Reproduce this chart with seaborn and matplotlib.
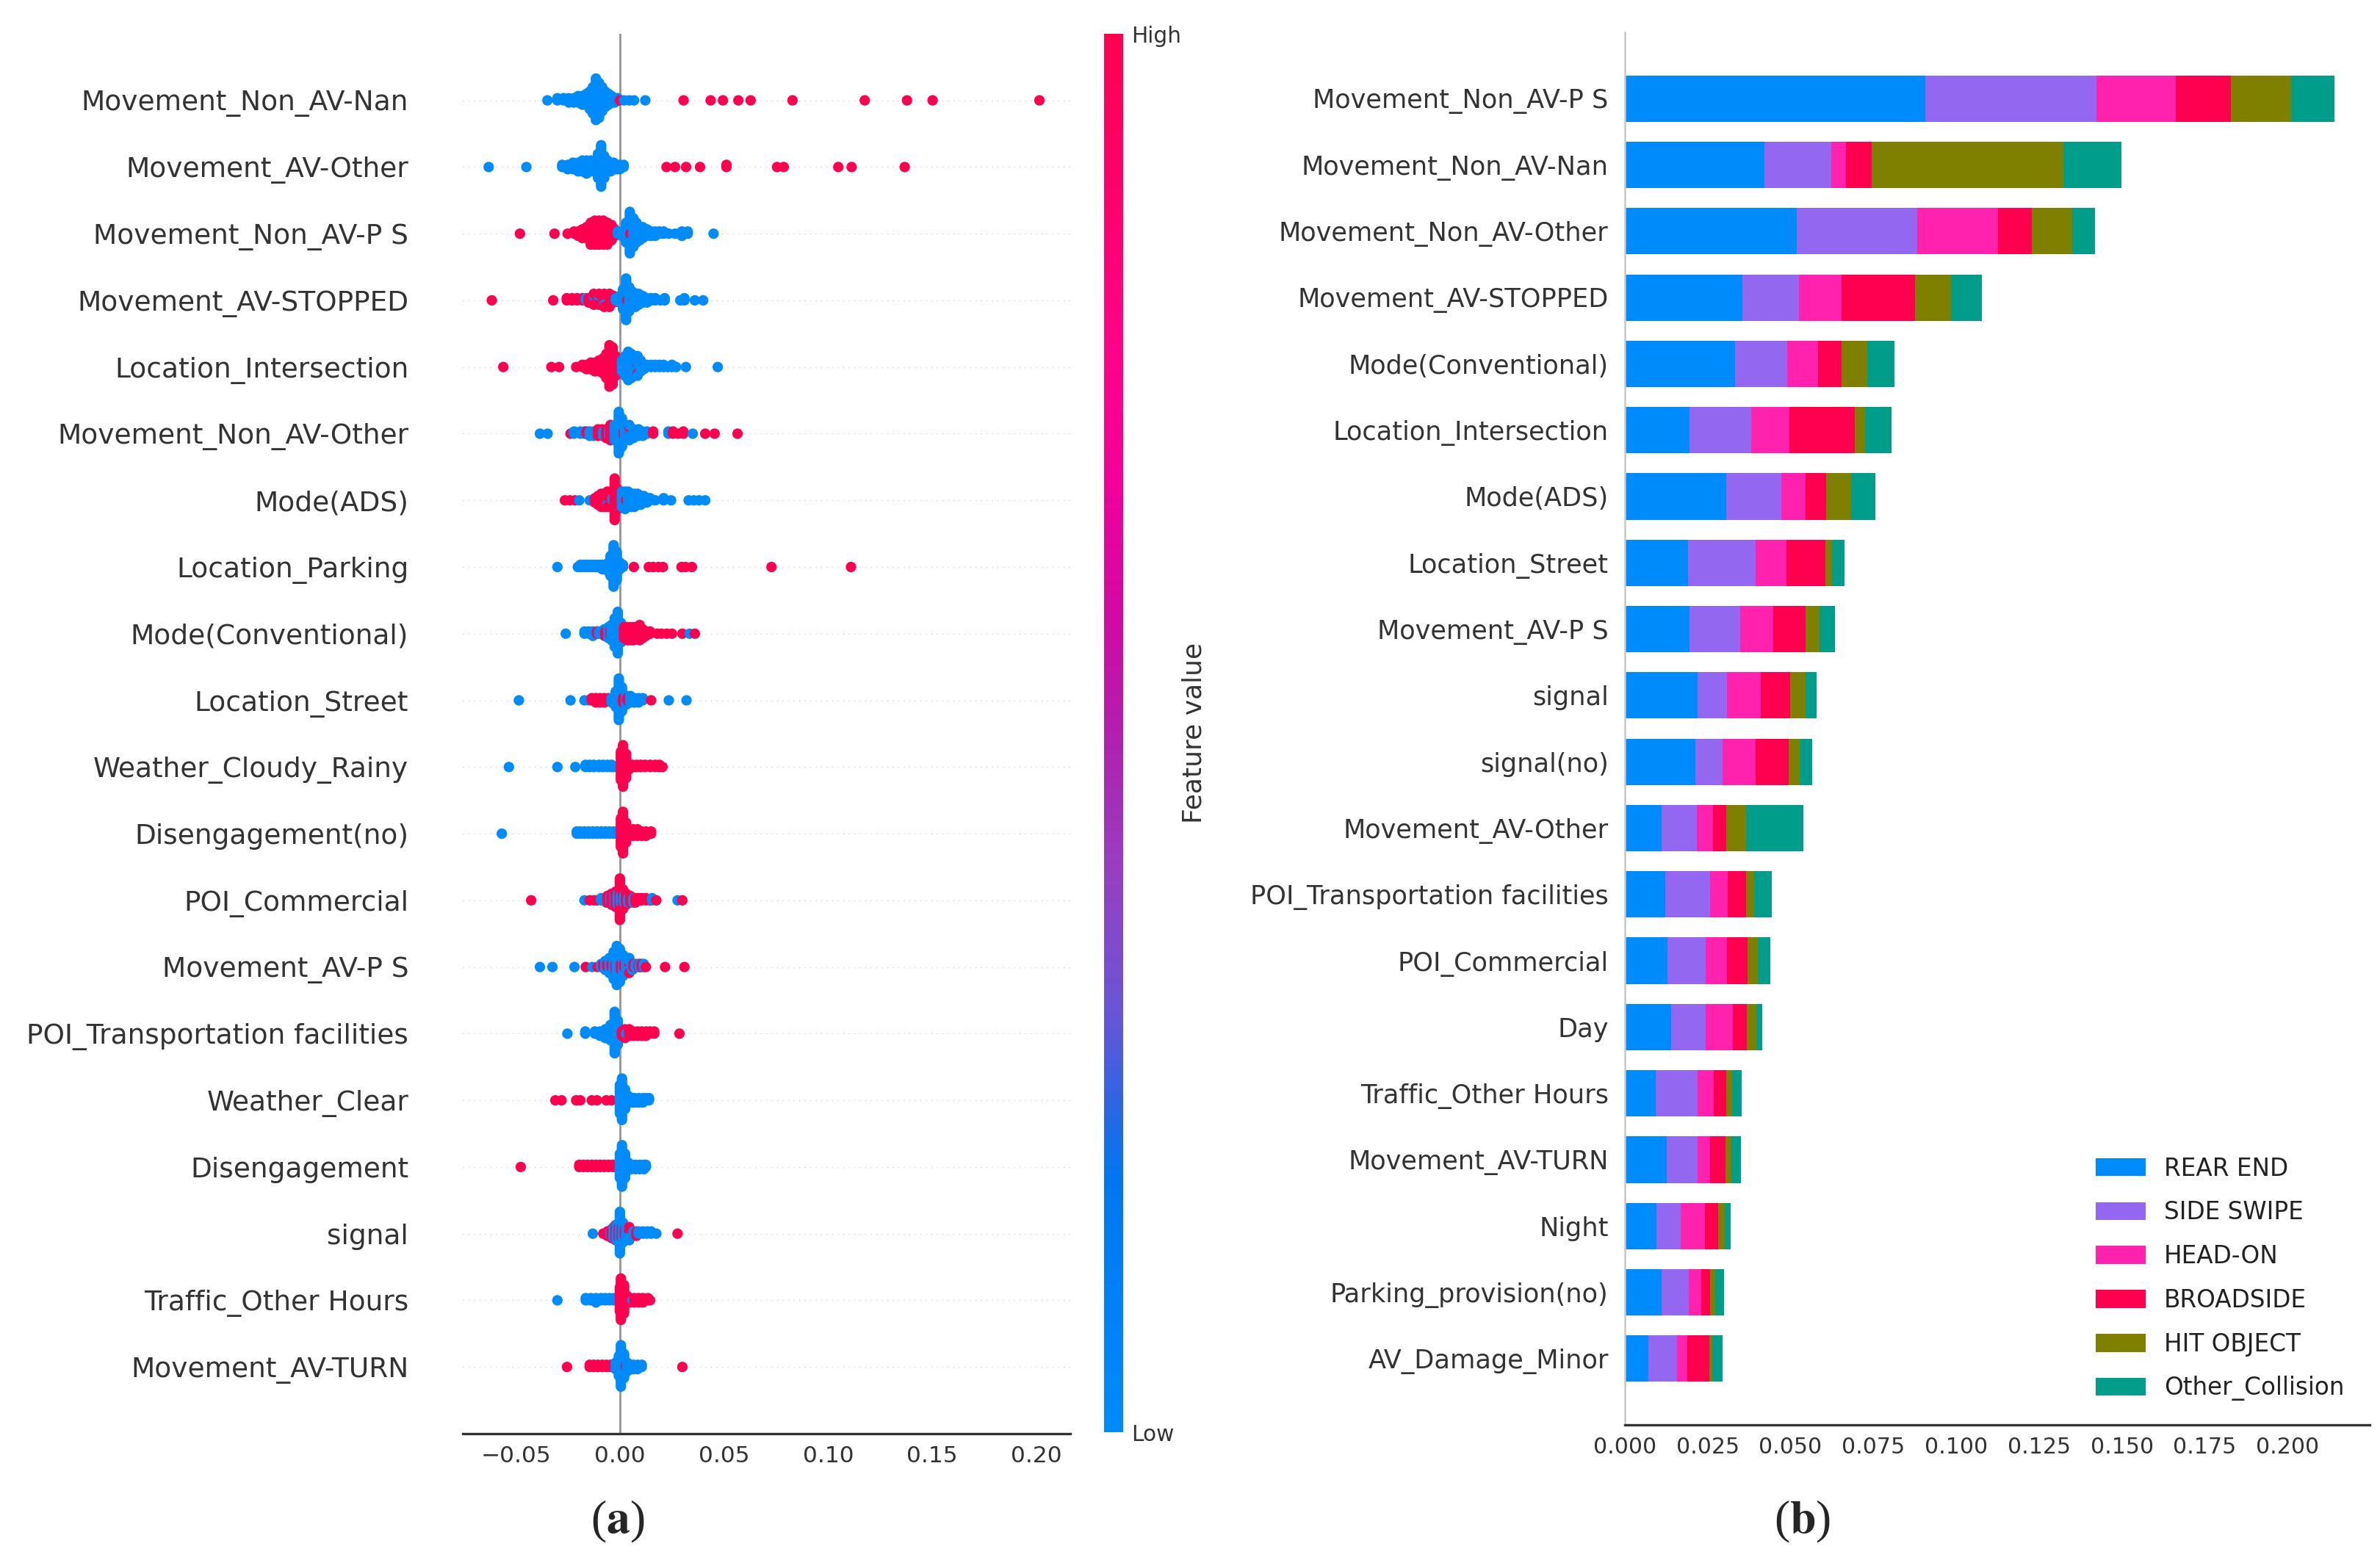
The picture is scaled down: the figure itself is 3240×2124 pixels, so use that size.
import numpy as np
import pandas as pd
import matplotlib
matplotlib.use("Agg")
import matplotlib.pyplot as plt
import seaborn as sns
from matplotlib.colors import LinearSegmentedColormap
from matplotlib.cm import ScalarMappable

# ---------------- panel (a): SHAP beeswarm, (shap value, number of dots)
features_a = ["Movement_Non_AV-Nan", "Movement_AV-Other", "Movement_Non_AV-P S", "Movement_AV-STOPPED",
              "Location_Intersection", "Movement_Non_AV-Other", "Mode(ADS)", "Location_Parking",
              "Mode(Conventional)", "Location_Street", "Weather_Cloudy_Rainy", "Disengagement(no)",
              "POI_Commercial", "Movement_AV-P S", "POI_Transportation facilities", "Weather_Clear",
              "Disengagement", "signal", "Traffic_Other Hours", "Movement_AV-TURN"]

# Movement_Non_AV-Nan
lo01 = [(-0.0348, 1), (-0.030, 2), (-0.027, 2), (-0.0245, 3), (-0.022, 3), (-0.020, 4), (-0.018, 5),
        (-0.016, 6), (-0.0145, 9), (-0.013, 13), (-0.0115, 20), (-0.010, 17), (-0.0085, 12), (-0.007, 8),
        (-0.0055, 6), (-0.004, 4), (-0.0025, 3), (-0.001, 2), (0.002, 1), (0.0045, 1), (0.0068, 1), (0.0122, 1)]
hi01 = [(0.000, 1), (0.0306, 1), (0.0436, 1), (0.0495, 1), (0.0569, 1), (0.0628, 1), (0.0829, 1),
        (0.1176, 1), (0.1379, 1), (0.1502, 1), (0.2015, 1)]
# Movement_AV-Other
lo02 = [(-0.063, 1), (-0.0449, 1), (-0.0277, 2), (-0.025, 3), (-0.0225, 4), (-0.020, 5), (-0.018, 6),
        (-0.016, 7), (-0.014, 6), (-0.012, 6), (-0.0105, 12), (-0.009, 20), (-0.0075, 11), (-0.006, 6),
        (-0.0045, 5), (-0.003, 4), (-0.0015, 3), (0.000, 3), (0.0018, 2)]
hi02 = [(0.0224, 1), (0.0265, 1), (0.0318, 1), (0.0385, 1), (0.0512, 2), (0.0755, 1), (0.0787, 1),
        (0.1049, 1), (0.1113, 1), (0.1368, 1)]
# Movement_Non_AV-P S
lo03 = [(-0.001, 2), (0.001, 3), (0.003, 10), (0.0048, 20), (0.0065, 14), (0.008, 10), (0.0095, 7),
        (0.011, 6), (0.013, 4), (0.015, 3), (0.017, 3), (0.019, 2), (0.021, 2), (0.0235, 1), (0.0265, 1),
        (0.0298, 3), (0.0326, 2), (0.045, 1)]
hi03 = [(-0.048, 1), (-0.0314, 1), (-0.0251, 1), (-0.022, 2), (-0.020, 3), (-0.018, 5), (-0.016, 6),
        (-0.014, 11), (-0.012, 12), (-0.010, 12), (-0.008, 12), (-0.006, 11), (-0.004, 8), (-0.0025, 4),
        (0.005, 1)]
# Movement_AV-STOPPED
lo04 = [(-0.0163, 2), (-0.0125, 2), (-0.010, 2), (-0.0075, 2), (-0.005, 1), (-0.002, 2), (0.000, 4),
        (0.0015, 10), (0.003, 20), (0.0045, 12), (0.006, 8), (0.0075, 7), (0.009, 6), (0.011, 4),
        (0.013, 3), (0.015, 2), (0.017, 2), (0.0195, 1), (0.0215, 2), (0.029, 1), (0.031, 2),
        (0.036, 1), (0.040, 1)]
hi04 = [(-0.0615, 1), (-0.032, 1), (-0.0255, 2), (-0.023, 2), (-0.0205, 2), (-0.018, 2), (-0.015, 3),
        (-0.0125, 4), (-0.010, 4), (-0.0075, 5), (-0.005, 6), (-0.003, 4), (0.0035, 1)]
# Location_Intersection
lo05 = [(0.001, 6), (0.0025, 10), (0.004, 14), (0.0055, 12), (0.007, 10), (0.0085, 8), (0.010, 6),
        (0.0115, 3), (0.013, 2), (0.015, 2), (0.017, 2), (0.019, 2), (0.021, 2), (0.023, 1), (0.025, 2),
        (0.027, 1), (0.0317, 1), (0.047, 1)]
hi05 = [(-0.056, 1), (-0.0329, 1), (-0.0292, 1), (-0.021, 1), (-0.018, 2), (-0.016, 3), (-0.014, 4),
        (-0.012, 5), (-0.010, 6), (-0.008, 8), (-0.0065, 12), (-0.005, 20), (-0.0035, 18), (-0.002, 10),
        (-0.0005, 5), (0.0085, 2)]
# Movement_Non_AV-Other
lo06 = [(-0.0384, 1), (-0.0347, 1), (-0.022, 2), (-0.019, 2), (-0.017, 2), (-0.0145, 3), (-0.0126, 3),
        (-0.008, 3), (-0.005, 4), (-0.0025, 8), (-0.0005, 20), (0.001, 14), (0.0025, 8), (0.0045, 6),
        (0.0065, 5), (0.009, 4), (0.011, 3), (0.013, 2), (0.0233, 2), (0.035, 1)]
hi06 = [(-0.0237, 1), (-0.016, 2), (-0.0105, 4), (-0.0085, 4), (-0.0065, 5), (-0.0045, 8), (-0.003, 4),
        (0.002, 3), (0.0045, 2), (0.016, 2), (0.0255, 2), (0.028, 1), (0.0305, 2), (0.041, 1),
        (0.0455, 1), (0.0565, 1)]
# Mode(ADS)
lo07 = [(-0.0195, 1), (-0.0145, 1), (-0.006, 2), (-0.0035, 2), (0.001, 8), (0.0025, 9), (0.004, 8),
        (0.0055, 7), (0.007, 7), (0.0085, 6), (0.010, 5), (0.0115, 4), (0.013, 3), (0.0145, 2),
        (0.017, 1), (0.021, 2), (0.0246, 1), (0.033, 1), (0.0355, 1), (0.038, 1), (0.041, 1)]
hi07 = [(-0.0264, 1), (-0.024, 1), (-0.0215, 1), (-0.012, 3), (-0.0105, 5), (-0.009, 7), (-0.0075, 7),
        (-0.006, 6), (-0.0045, 8), (-0.0025, 20), (-0.001, 10), (0.003, 1)]
# Location_Parking
lo08 = [(-0.030, 1), (-0.0202, 1), (-0.019, 2), (-0.0175, 2), (-0.016, 2), (-0.0145, 2), (-0.013, 2),
        (-0.0115, 2), (-0.010, 2), (-0.0085, 3), (-0.007, 3), (-0.0055, 5), (-0.0045, 10), (-0.003, 20),
        (-0.0015, 14), (0.000, 4), (0.0015, 2)]
hi08 = [(0.0067, 1), (0.0139, 1), (0.016, 1), (0.0185, 1), (0.0207, 1), (0.0296, 1), (0.0315, 1),
        (0.0346, 1), (0.0728, 1), (0.111, 1)]
# Mode(Conventional)
lo09 = [(-0.026, 1), (-0.017, 2), (-0.015, 2), (-0.013, 3), (-0.010, 2), (-0.0075, 4), (-0.0055, 6),
        (-0.004, 8), (-0.0025, 14), (-0.001, 20), (0.0005, 10), (0.0335, 1)]
hi09 = [(-0.011, 2), (-0.007, 3), (-0.0045, 4), (0.002, 6), (0.0035, 7), (0.005, 7), (0.0065, 7),
        (0.008, 6), (0.0095, 8), (0.011, 5), (0.0125, 3), (0.0145, 2), (0.018, 1), (0.020, 1),
        (0.0225, 1), (0.025, 1), (0.030, 1), (0.036, 1)]
# Location_Street
lo10 = [(-0.0485, 1), (-0.0237, 1), (-0.017, 1), (-0.015, 1), (-0.004, 3), (-0.002, 8), (-0.0005, 20),
        (0.001, 12), (0.003, 5), (0.005, 4), (0.007, 3), (0.009, 3), (0.011, 2), (0.0235, 1), (0.032, 1)]
hi10 = [(-0.0135, 2), (-0.0115, 3), (-0.0095, 3), (-0.0075, 3), (-0.0055, 2), (0.0015, 3), (0.0035, 2),
        (0.015, 1)]
# Weather_Cloudy_Rainy
lo11 = [(-0.0533, 1), (-0.030, 1), (-0.0214, 1), (-0.0165, 2), (-0.0145, 2), (-0.0125, 2), (-0.010, 2),
        (-0.008, 2), (-0.006, 2), (-0.004, 2), (-0.0025, 1)]
hi11 = [(0.0005, 14), (0.0015, 20), (0.003, 12), (0.0045, 3), (0.006, 2), (0.008, 2), (0.010, 2),
        (0.012, 2), (0.0145, 2), (0.017, 2), (0.019, 2), (0.0205, 1)]
# Disengagement(no)
lo12 = [(-0.0567, 1), (-0.0207, 2), (-0.019, 2), (-0.017, 2), (-0.015, 2), (-0.013, 2), (-0.011, 2),
        (-0.009, 2), (-0.007, 2), (-0.005, 2), (-0.003, 2), (-0.0015, 2)]
hi12 = [(0.0005, 14), (0.0015, 20), (0.003, 10), (0.0045, 4), (0.0065, 4), (0.0085, 4), (0.0105, 3),
        (0.0125, 3), (0.015, 2)]
# POI_Commercial
lo13 = [(-0.017, 1), (-0.009, 2), (-0.0065, 3), (-0.0045, 4), (-0.0025, 6), (-0.001, 6), (0.0005, 4),
        (0.002, 4), (0.004, 3), (0.0065, 3), (0.0155, 2), (0.0277, 1)]
hi13 = [(-0.0426, 1), (-0.0145, 1), (-0.0125, 1), (-0.011, 1), (-0.006, 4), (-0.004, 6), (-0.002, 8),
        (0.000, 20), (0.0015, 10), (0.003, 6), (0.005, 4), (0.0075, 3), (0.009, 2), (0.0105, 2),
        (0.0125, 2), (0.0145, 1), (0.0175, 1), (0.030, 1)]
# Movement_AV-P S
lo14 = [(-0.0384, 1), (-0.0324, 1), (-0.0218, 1), (-0.0132, 1), (-0.009, 2), (-0.007, 4), (-0.005, 6),
        (-0.003, 10), (-0.0015, 14), (0.000, 12), (0.0015, 8), (0.003, 6), (0.0045, 4), (0.006, 3),
        (0.0075, 2), (0.0095, 2), (0.0115, 2)]
hi14 = [(-0.0164, 1), (-0.0107, 1), (-0.008, 2), (-0.006, 2), (-0.004, 2), (-0.002, 3), (0.0005, 3),
        (0.002, 2), (0.0045, 2), (0.0065, 2), (0.009, 2), (0.0105, 2), (0.0125, 1), (0.0217, 1), (0.031, 1)]
# POI_Transportation facilities
lo15 = [(-0.0252, 1), (-0.0166, 2), (-0.012, 2), (-0.0095, 3), (-0.007, 5), (-0.0045, 8), (-0.0025, 20),
        (-0.001, 12), (0.0005, 4), (0.003, 1)]
hi15 = [(0.001, 3), (0.0025, 5), (0.0045, 4), (0.0065, 3), (0.0085, 3), (0.0105, 3), (0.0125, 3),
        (0.0145, 2), (0.0165, 2), (0.0286, 1)]
# Weather_Clear
lo16 = [(0.000, 14), (0.001, 20), (0.0025, 10), (0.004, 4), (0.0055, 3), (0.007, 3), (0.009, 3),
        (0.011, 3), (0.0125, 2), (0.014, 2)]
hi16 = [(-0.031, 1), (-0.028, 1), (-0.021, 1), (-0.019, 1), (-0.0135, 1), (-0.011, 1), (-0.0065, 1),
        (-0.004, 1)]
# Disengagement
lo17 = [(0.000, 12), (0.001, 20), (0.0025, 12), (0.004, 4), (0.0055, 3), (0.0075, 3), (0.0095, 3),
        (0.0115, 3), (0.0125, 2)]
hi17 = [(-0.0476, 1), (-0.0195, 2), (-0.0175, 2), (-0.0155, 2), (-0.0135, 2), (-0.0115, 2), (-0.0095, 2),
        (-0.0075, 2), (-0.0055, 2), (-0.0035, 2), (-0.002, 2)]
# signal
lo18 = [(-0.013, 1), (-0.0045, 3), (-0.003, 6), (-0.0015, 8), (0.000, 20), (0.0015, 10), (0.003, 6),
        (0.0045, 4), (0.0065, 3), (0.009, 2), (0.011, 2), (0.013, 2), (0.015, 2), (0.0175, 1)]
hi18 = [(-0.008, 1), (-0.006, 3), (-0.004, 5), (-0.002, 8), (-0.0005, 6), (0.001, 6), (0.0025, 4),
        (0.0045, 3), (0.008, 3), (0.0277, 1)]
# Traffic_Other Hours
lo19 = [(-0.030, 1), (-0.0164, 2), (-0.014, 2), (-0.0115, 3), (-0.009, 2), (-0.007, 2), (-0.005, 2),
        (-0.003, 2), (-0.0015, 2), (0.006, 1)]
hi19 = [(0.000, 12), (0.0005, 20), (0.002, 14), (0.0035, 4), (0.005, 3), (0.007, 3), (0.009, 3),
        (0.011, 3), (0.0135, 2), (0.0145, 1)]
# Movement_AV-TURN
lo20 = [(-0.002, 4), (-0.0005, 10), (0.0005, 20), (0.002, 12), (0.0035, 5), (0.005, 3), (0.0065, 3),
        (0.0085, 3), (0.0105, 2)]
hi20 = [(-0.0254, 1), (-0.0145, 2), (-0.0125, 2), (-0.0105, 2), (-0.0085, 2), (-0.0065, 2), (-0.0045, 2),
        (0.003, 2), (0.030, 1)]

# ---------------- panel (b): mean |SHAP| per collision type
features_b = ["Movement_Non_AV-P S", "Movement_Non_AV-Nan", "Movement_Non_AV-Other", "Movement_AV-STOPPED",
              "Mode(Conventional)", "Location_Intersection", "Mode(ADS)", "Location_Street",
              "Movement_AV-P S", "signal", "signal(no)", "Movement_AV-Other",
              "POI_Transportation facilities", "POI_Commercial", "Day", "Traffic_Other Hours",
              "Movement_AV-TURN", "Night", "Parking_provision(no)", "AV_Damage_Minor"]
rear_end = [0.0907, 0.0422, 0.0518, 0.0355, 0.0332, 0.0195, 0.0307, 0.0190, 0.0195, 0.0220,
            0.0213, 0.0112, 0.0121, 0.0128, 0.0140, 0.0094, 0.0126, 0.0096, 0.0112, 0.0071]
side_swipe = [0.0516, 0.0202, 0.0364, 0.0170, 0.0158, 0.0186, 0.0165, 0.0204, 0.0153, 0.0089,
              0.0082, 0.0105, 0.0137, 0.0117, 0.0105, 0.0126, 0.0094, 0.0073, 0.0082, 0.0087]
head_on = [0.0240, 0.0044, 0.0245, 0.0128, 0.0094, 0.0115, 0.0073, 0.0094, 0.0099, 0.0101,
           0.0099, 0.0050, 0.0053, 0.0064, 0.0080, 0.0048, 0.0037, 0.0073, 0.0037, 0.0030]
broadside = [0.0165, 0.0078, 0.0101, 0.0222, 0.0071, 0.0199, 0.0062, 0.0117, 0.0099, 0.0089,
             0.0101, 0.0039, 0.0055, 0.0062, 0.0044, 0.0039, 0.0046, 0.0039, 0.0027, 0.0066]
hit_object = [0.0183, 0.0577, 0.0121, 0.0110, 0.0076, 0.0030, 0.0076, 0.0021, 0.0041, 0.0046,
              0.0032, 0.0060, 0.0025, 0.0030, 0.0027, 0.0016, 0.0018, 0.0021, 0.0014, 0.0009]
other_collision = [0.0131, 0.0176, 0.0069, 0.0092, 0.0082, 0.0080, 0.0073, 0.0037, 0.0046, 0.0034,
                   0.0039, 0.0172, 0.0053, 0.0039, 0.0018, 0.0030, 0.0030, 0.0018, 0.0027, 0.0032]
classes = ["REAR END", "SIDE SWIPE", "HEAD-ON", "BROADSIDE", "HIT OBJECT", "Other_Collision"]
class_colors = ["#008bfb", "#9467f0", "#ff22ae", "#ff0051", "#808000", "#009e8a"]

BLUE = "#008bfb"
RED = "#ff0051"
AXIS = "#333333"

sns.set_style("white")
plt.rcParams["font.family"] = ["DejaVu Sans"]
plt.rcParams["mathtext.fontset"] = "stix"

# beeswarm layout: stack dots with the same value alternately up/down (like shap)
lows = [lo01, lo02, lo03, lo04, lo05, lo06, lo07, lo08, lo09, lo10,
        lo11, lo12, lo13, lo14, lo15, lo16, lo17, lo18, lo19, lo20]
highs = [hi01, hi02, hi03, hi04, hi05, hi06, hi07, hi08, hi09, hi10,
         hi11, hi12, hi13, hi14, hi15, hi16, hi17, hi18, hi19, hi20]
recs = []
for i, (lo, hi) in enumerate(zip(lows, highs)):
    pts = []
    for level, lst in (("Low", lo), ("High", hi)):
        for v, n in lst:
            for j in range(n):
                pts.append((v, j / n, level))
    pts.sort(key=lambda p: (p[0], p[1]))
    layer = {}
    ys = []
    for v, _, _ in pts:
        k = layer.get(v, 0)
        ys.append(np.ceil(k / 2) * ((k % 2) * 2 - 1))
        layer[v] = k + 1
    ys = np.array(ys, dtype=float)
    ys *= 0.9 * (0.4 / np.max(ys + 1))
    for (v, _, level), dy in zip(pts, ys):
        recs.append({"feature": features_a[i], "shap": v, "pos": i - dy, "level": level})
swarm = pd.DataFrame(recs)

fig = plt.figure(figsize=(32.4, 21.24), dpi=100)
ax1 = fig.add_axes([0.1944, 0.0810, 0.2552, 0.8974])
cax = fig.add_axes([0.4639, 0.0819, 0.0080, 0.8964])
ax2 = fig.add_axes([0.6827, 0.0866, 0.3130, 0.8927])

# (a)
for i in range(len(features_a)):
    ax1.axhline(i, color="#cccccc", lw=0.9, dashes=(1, 5), zorder=-1)
ax1.axvline(0, color="#999999", lw=2.1, zorder=-1)
sns.scatterplot(data=swarm, x="shap", y="pos", hue="level", palette={"Low": BLUE, "High": RED},
                s=105, linewidth=0, legend=False, ax=ax1, zorder=3)
ax1.set_xlim(-0.0755, 0.2162)
ax1.set_ylim(len(features_a), -1)
ax1.set_yticks(range(len(features_a)))
ax1.set_yticklabels(features_a)
ax1.set_xticks([-0.05, 0, 0.05, 0.1, 0.15, 0.2])
ax1.set(xlabel="", ylabel="")
for s in ("left", "top", "right"):
    ax1.spines[s].set_visible(False)
ax1.spines["bottom"].set_color(AXIS)
ax1.spines["bottom"].set_linewidth(2.4)
ax1.tick_params(axis="y", length=0, pad=53, labelsize=27, labelcolor=AXIS)
ax1.tick_params(axis="x", length=6.5, width=1.8, color=AXIS, pad=5, labelsize=22.5, labelcolor=AXIS)

# colour bar
cb_stops = [0.0, 0.18, 0.23, 0.30, 0.40, 0.50, 0.58, 0.68, 0.78, 0.90, 1.0]
cb_cols = ["#008bfb", "#0077f0", "#2a66e4", "#6a55d6", "#9640c0", "#b21fae", "#d00aa3",
           "#f2009a", "#ff0387", "#ff006a", "#ff0051"]
cmap = LinearSegmentedColormap.from_list("shap_red_blue", list(zip(cb_stops, cb_cols)))
sm = ScalarMappable(cmap=cmap)
sm.set_clim(0, 1)
sm.set_array([])
cb = fig.colorbar(sm, cax=cax, ticks=[0, 1])
cb.set_ticklabels(["Low", "High"])
cb.ax.tick_params(length=0, labelsize=21.3, pad=8, labelcolor=AXIS)
cb.set_label("Feature value", size=26, labelpad=0, color=AXIS)
cb.outline.set_visible(False)

# (b) stacked bars
cum = np.cumsum(np.vstack([rear_end, side_swipe, head_on, broadside, hit_object, other_collision]), axis=0)
for k in reversed(range(len(classes))):
    sns.barplot(x=cum[k], y=features_b, order=features_b, orient="h", color=class_colors[k],
                width=0.7, saturation=1, errorbar=None, linewidth=0, label=classes[k], ax=ax2)
ax2.set_xlim(0, 0.2248)
ax2.set_ylim(len(features_b), -1)
ax2.set_xticks(np.arange(0, 0.2001, 0.025))
ax2.set(xlabel="", ylabel="")
for s in ("top", "right"):
    ax2.spines[s].set_visible(False)
ax2.spines["left"].set_color("#c8c8c8")
ax2.spines["left"].set_linewidth(1.8)
ax2.spines["bottom"].set_color(AXIS)
ax2.spines["bottom"].set_linewidth(2.4)
ax2.tick_params(axis="y", length=0, pad=16, labelsize=25.3, labelcolor=AXIS)
ax2.tick_params(axis="x", length=6.5, width=1.8, color=AXIS, pad=5, labelsize=21.6, labelcolor=AXIS)
h, l = ax2.get_legend_handles_labels()
ax2.legend(h[::-1], l[::-1], loc="center left", bbox_to_anchor=(0.632, 0.105), frameon=False,
           fontsize=23.5, borderpad=0, borderaxespad=0, handlelength=2.1, handleheight=0.78,
           handletextpad=0.75, labelspacing=0.82, labelcolor="#222222")

fig.text(0.2596, 0.0245, r"($\mathbf{a}$)", ha="center", va="center", fontsize=46, family="Liberation Serif")
fig.text(0.7574, 0.0245, r"($\mathbf{b}$)", ha="center", va="center", fontsize=46, family="Liberation Serif")

fig.savefig("out.png", dpi=100)
